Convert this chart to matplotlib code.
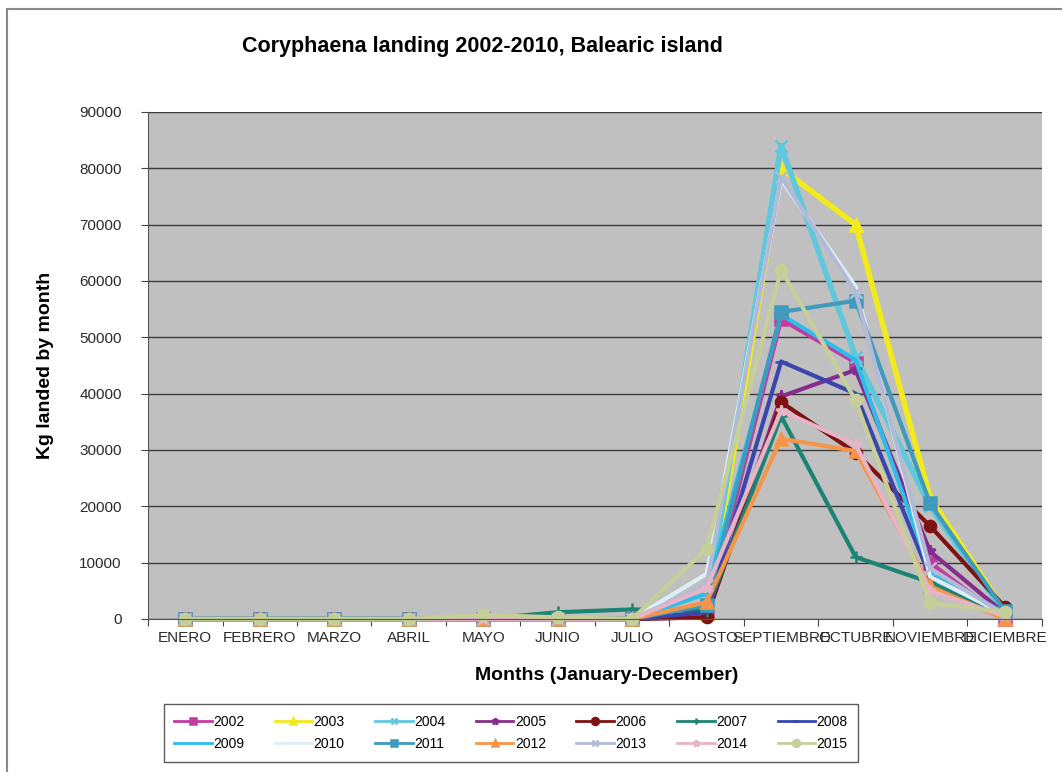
import numpy as np
import matplotlib
matplotlib.use("Agg")
import matplotlib.pyplot as plt
from matplotlib.patches import Rectangle

# months (spanish labels as in the original chart)
months = ["ENERO", "FEBRERO", "MARZO", "ABRIL", "MAYO", "JUNIO", "JULIO",
          "AGOSTO", "SEPTIEMBRE", "OCTUBRE", "NOVIEMBRE", "DICIEMBRE"]

years = ["2002", "2003", "2004", "2005", "2006", "2007", "2008",
         "2009", "2010", "2011", "2012", "2013", "2014", "2015"]

# kg landed per month
y2002 = [0, 0, 0, 0, 0, 0, 0, 1000, 53200, 45500, 10000, 0]
y2003 = [0, 0, 0, 0, 0, 0, 0, 1000, 80000, 70000, 21500, 1500]
y2004 = [0, 0, 0, 0, 0, 0, 0, 2500, 84000, 46500, 20000, 1000]
y2005 = [0, 0, 0, 0, 0, 0, 0, 300, 39500, 44200, 12000, 1000]
y2006 = [0, 0, 0, 0, 0, 0, 0, 300, 38500, 29500, 16500, 2200]
y2007 = [0, 0, 0, 0, 0, 1200, 1700, 1500, 36000, 11000, 6500, 500]
y2008 = [0, 0, 0, 0, 0, 0, 0, 1200, 45700, 40000, 7500, 1000]
y2009 = [0, 0, 0, 0, 0, 0, 0, 4500, 54000, 46000, 8500, 1000]
y2010 = [0, 0, 0, 0, 0, 0, 0, 8000, 78000, 59000, 7500, 800]
y2011 = [0, 0, 0, 0, 0, 0, 0, 2500, 54500, 56500, 20500, 1500]
y2012 = [0, 0, 0, 0, 0, 0, 0, 3000, 32000, 29800, 5800, 0]
y2013 = [0, 0, 0, 0, 0, 0, 0, 6000, 78500, 58000, 9000, 800]
y2014 = [0, 0, 0, 0, 0, 0, 0, 5500, 37000, 31000, 5000, 500]
y2015 = [0, 0, 0, 0, 700, 300, 0, 12500, 62000, 38800, 2800, 1300]

series = [y2002, y2003, y2004, y2005, y2006, y2007, y2008,
          y2009, y2010, y2011, y2012, y2013, y2014, y2015]

colors = ["#C23B9E", "#F2EA1C", "#5FC8DC", "#862C8C", "#7E1212", "#1C8474",
          "#3A45AE", "#2DBDEA", "#DDEFF6", "#3E9BBE", "#F5954A", "#B3BAD8",
          "#E6B4C6", "#C7CF98"]
markers = ["s", "^", "x", "*", "o", "+", "_", "", "", "s", "^", "x", "*", "o"]


def main():
    plt.rcParams['font.family'] = ['Liberation Sans', 'DejaVu Sans']
    fig = plt.figure(figsize=(10.62, 7.72), dpi=100)

    # outer chart border
    fig.patches.append(Rectangle((0.007, -0.1), 1.2, 1.088, transform=fig.transFigure,
                                 fill=False, edgecolor="#8a8a8a", linewidth=1.5))

    ax = fig.add_axes([0.1394, 0.1982, 0.8416, 0.6568])
    ax.set_facecolor("#C0C0C0")

    x = np.arange(len(months)) + 0.5
    handles = []
    for name, vals, c, m in zip(years, series, colors, markers):
        lw = 4.0 if name in ("2003", "2004") else 3.0
        h, = ax.plot(x, vals, color=c, linewidth=lw, marker=m, markersize=8,
                     markeredgewidth=1.8, label=name, clip_on=False)
        handles.append(h)

    ax.set_xlim(0, 12)
    ax.set_ylim(0, 90000)
    ax.set_yticks(np.arange(0, 90001, 10000))
    ax.set_yticklabels([str(v) for v in range(0, 90001, 10000)])
    ax.yaxis.grid(True, color="#3a3a3a", linewidth=1)
    ax.set_axisbelow(True)

    # ticks between categories, labels in the middle
    ax.set_xticks(np.arange(0, 13))
    ax.set_xticklabels([])
    ax.set_xticks(x, minor=True)
    ax.set_xticklabels(months, minor=True)
    ax.tick_params(axis='x', which='minor', length=0, pad=9, labelsize=11,
                   labelcolor="#2a2a2a")
    ax.tick_params(axis='x', which='major', length=5, color="#444444")
    ax.tick_params(axis='y', length=5, labelsize=11, labelcolor="#2a2a2a", pad=14,
                   color="#444444")

    for s in ["top", "right"]:
        ax.spines[s].set_visible(False)
    ax.spines["left"].set_color("#555555")
    ax.spines["bottom"].set_color("#555555")

    fig.text(0.454, 0.94, "Coryphaena landing 2002-2010, Balearic island",
             ha="center", va="center", fontsize=15.5, fontweight="bold")
    ax.set_ylabel("Kg landed by month", fontsize=14, fontweight="bold")
    ax.yaxis.set_label_coords(-0.105, 0.5)
    ax.set_xlabel("Months (January-December)", fontsize=14, fontweight="bold")
    ax.xaxis.set_label_coords(0.513, -0.095)

    # excel fills the legend row by row
    ncol = 7
    order = [r * ncol + c for c in range(ncol) for r in range(2)]
    leg = ax.legend([handles[i] for i in order], [years[i] for i in order],
                    loc="center", bbox_to_anchor=(0.481, 0.0505),
                    bbox_transform=fig.transFigure, ncol=ncol, fontsize=10,
                    frameon=True, fancybox=False, handlelength=2.7,
                    columnspacing=2.2, handletextpad=0.1, borderpad=0.75,
                    labelspacing=0.6)
    leg.get_frame().set_edgecolor("#333333")
    leg.get_frame().set_linewidth(1.0)
    for line in leg.get_lines():
        line.set_linewidth(2.0)
        line.set_markersize(5)

    fig.savefig("out.png", dpi=100)


if __name__ == "__main__":
    main()
